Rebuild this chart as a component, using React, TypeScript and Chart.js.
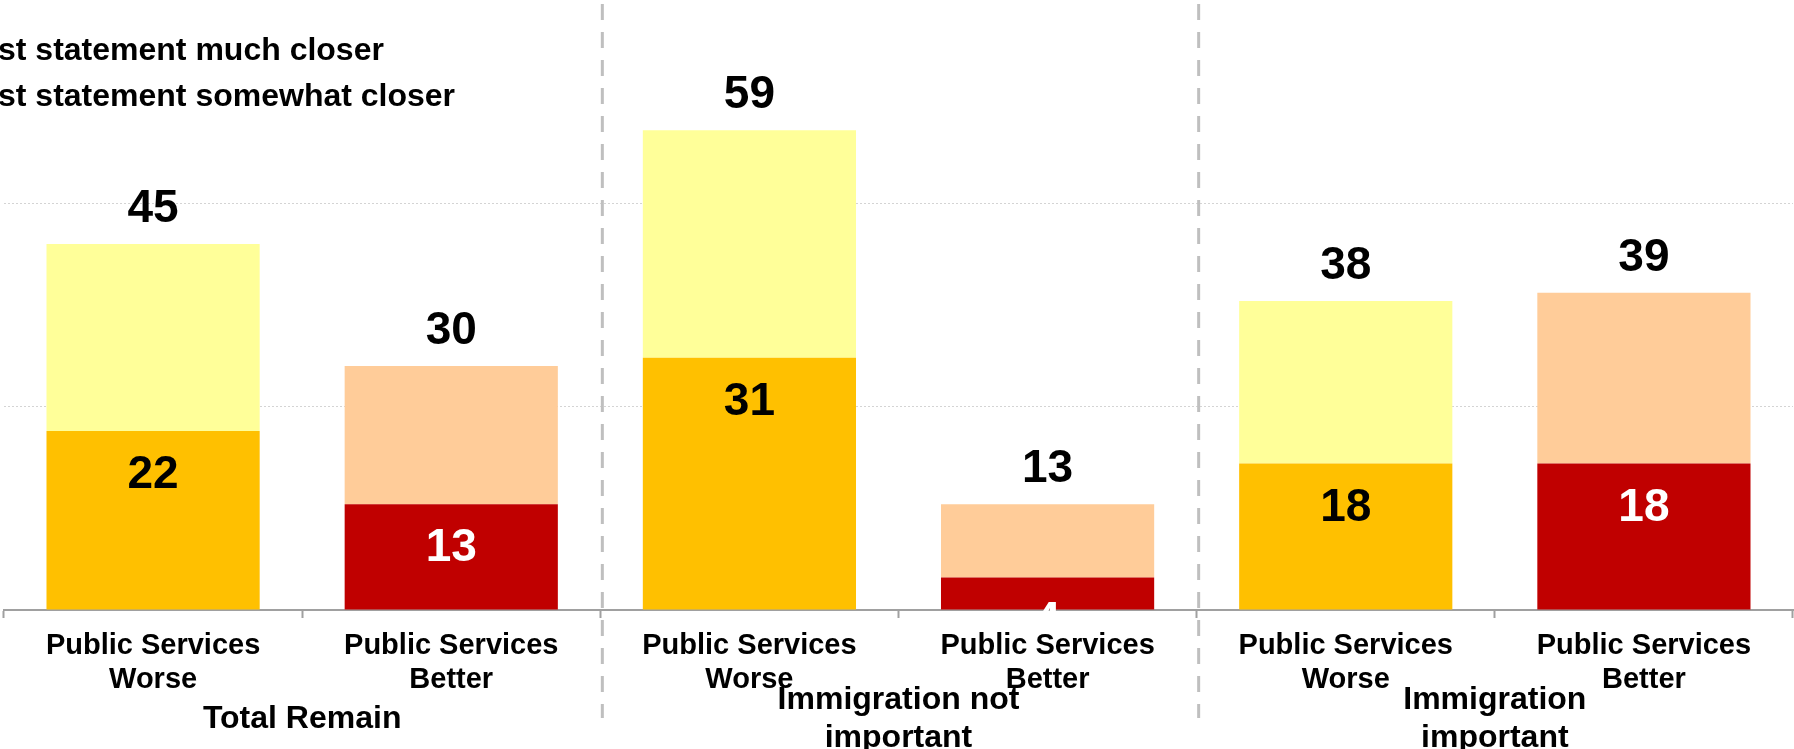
import React, { useEffect, useRef } from "react";
import { Chart, registerables } from "chart.js";

Chart.register(...registerables);

const categories: string[][] = [
  ["Public Services", "Worse"],
  ["Public Services", "Better"],
  ["Public Services", "Worse"],
  ["Public Services", "Better"],
  ["Public Services", "Worse"],
  ["Public Services", "Better"],
];
const groupLabels: string[][] = [
  ["Total Remain"],
  ["Immigration not", "important"],
  ["Immigration", "important"],
];
const legendLabels = ["First statement much closer", "First statement somewhat closer"];

const firstMuch = [22, null, 31, null, 18, null];
const firstSomewhat = [23, null, 28, null, 20, null];
const secondMuch = [null, 13, null, 4, null, 18];
const secondSomewhat = [null, 17, null, 9, null, 21];
const totals = [45, 30, 59, 13, 38, 39];
const yTicks = [0, 25, 50, 75];

const FONT = "'Liberation Sans', Arial, Helvetica, sans-serif";

const labelsPlugin = {
  id: "customLabels",
  afterDraw(chart: any) {
    const ctx = chart.ctx;
    const x = chart.scales.x;
    ctx.save();

    // dashed separators
    ctx.strokeStyle = "#bfbfbf";
    ctx.lineWidth = 3;
    ctx.setLineDash([16, 12]);
    [1, 3].forEach((i) => {
      const px = (x.getPixelForTick(i) + x.getPixelForTick(i + 1)) / 2 + 2;
      ctx.beginPath();
      ctx.moveTo(px, 4);
      ctx.lineTo(px, 718);
      ctx.stroke();
    });
    ctx.setLineDash([]);

    // value labels
    ctx.font = `bold 46px ${FONT}`;
    ctx.textAlign = "center";
    ctx.textBaseline = "alphabetic";
    const m0 = chart.getDatasetMeta(0);
    const m1 = chart.getDatasetMeta(1);
    const m2 = chart.getDatasetMeta(2);
    const m3 = chart.getDatasetMeta(3);
    categories.forEach((_, j) => {
      const worse = firstMuch[j] != null;
      const inner = worse ? m0.data[j] : m2.data[j];
      const outer = worse ? m1.data[j] : m3.data[j];
      const innerVal = worse ? firstMuch[j] : secondMuch[j];
      ctx.fillStyle = worse ? "#000000" : "#ffffff";
      ctx.fillText(String(innerVal), inner.x, inner.y + 57);
      ctx.fillStyle = "#000000";
      ctx.fillText(String(totals[j]), outer.x, outer.y - 22);
    });

    // group labels
    ctx.font = `bold 32px ${FONT}`;
    groupLabels.forEach((lines, g) => {
      const cx = x.getPixelForTick(g * 2 + 1) - (x.getPixelForTick(1) - x.getPixelForTick(0)) / 2;
      const mid = 728;
      const lh = 38;
      lines.forEach((ln, k) => {
        const y = mid + (k - (lines.length - 1) / 2) * lh;
        ctx.fillText(ln, cx, y);
      });
    });

    // legend (cropped at left edge)
    ctx.font = `bold 32px ${FONT}`;
    ctx.textAlign = "left";
    const pre = ctx.measureText("Fir").width;
    ctx.fillText(legendLabels[0], -2 - pre, 60);
    ctx.fillText(legendLabels[1], -2 - pre, 106);

    ctx.restore();
  },
};

export default function App() {
  const ref = useRef<HTMLCanvasElement | null>(null);
  useEffect(() => {
    if (!ref.current) return;
    const chart = new Chart(ref.current, {
      type: "bar",
      data: {
        labels: categories,
        datasets: [
          { label: legendLabels[0], data: firstMuch, backgroundColor: "#FFC000", stack: "s" },
          { label: legendLabels[1], data: firstSomewhat, backgroundColor: "#FFFF99", stack: "s" },
          { label: "Second statement much closer", data: secondMuch, backgroundColor: "#C00000", stack: "s" },
          { label: "Second statement somewhat closer", data: secondSomewhat, backgroundColor: "#FFCC99", stack: "s" },
        ],
      },
      options: {
        responsive: false,
        animation: false,
        devicePixelRatio: 1,
        layout: { padding: { left: 4, right: 1, top: 0, bottom: 0 } },
        datasets: { bar: { barPercentage: 0.715, categoryPercentage: 1, borderWidth: 0 } },
        plugins: {
          legend: { display: false },
          tooltip: { enabled: false },
          title: { display: false },
        },
        scales: {
          x: {
            stacked: true,
            z: 1,
            grid: {
              drawOnChartArea: false,
              drawTicks: true,
              tickLength: 8,
              tickColor: "#a0a0a0",
              tickWidth: 2,
            },
            border: { display: true, color: "#a0a0a0", width: 2 },
            ticks: {
              color: "#000000",
              padding: 11,
              maxRotation: 0,
              autoSkip: false,
              font: { family: FONT, size: 29, weight: "bold", lineHeight: 34 / 29 },
            },
            afterFit: (s: any) => {
              s.height = 139;
            },
          },
          y: {
            stacked: true,
            min: 0,
            max: 75,
            afterBuildTicks: (s: any) => {
              s.ticks = yTicks.map((v) => ({ value: v }));
            },
            ticks: { display: false },
            border: { display: false, dash: [2, 2] },
            grid: {
              drawTicks: false,
              lineWidth: 1,
              color: (c: any) => (c.tick && (c.tick.value === 25 || c.tick.value === 50) ? "#d4d4d4" : "rgba(0,0,0,0)"),
            },
            afterFit: (s: any) => {
              s.width = 0;
            },
          },
        },
      } as any,
      plugins: [labelsPlugin],
    });
    return () => chart.destroy();
  }, []);
  return (
    <div style={{ position: "absolute", left: 0, top: 0, width: 1794, height: 749, background: "#ffffff" }}>
      <canvas ref={ref} width={1794} height={749} style={{ display: "block", width: 1794, height: 749 }} />
    </div>
  );
}
